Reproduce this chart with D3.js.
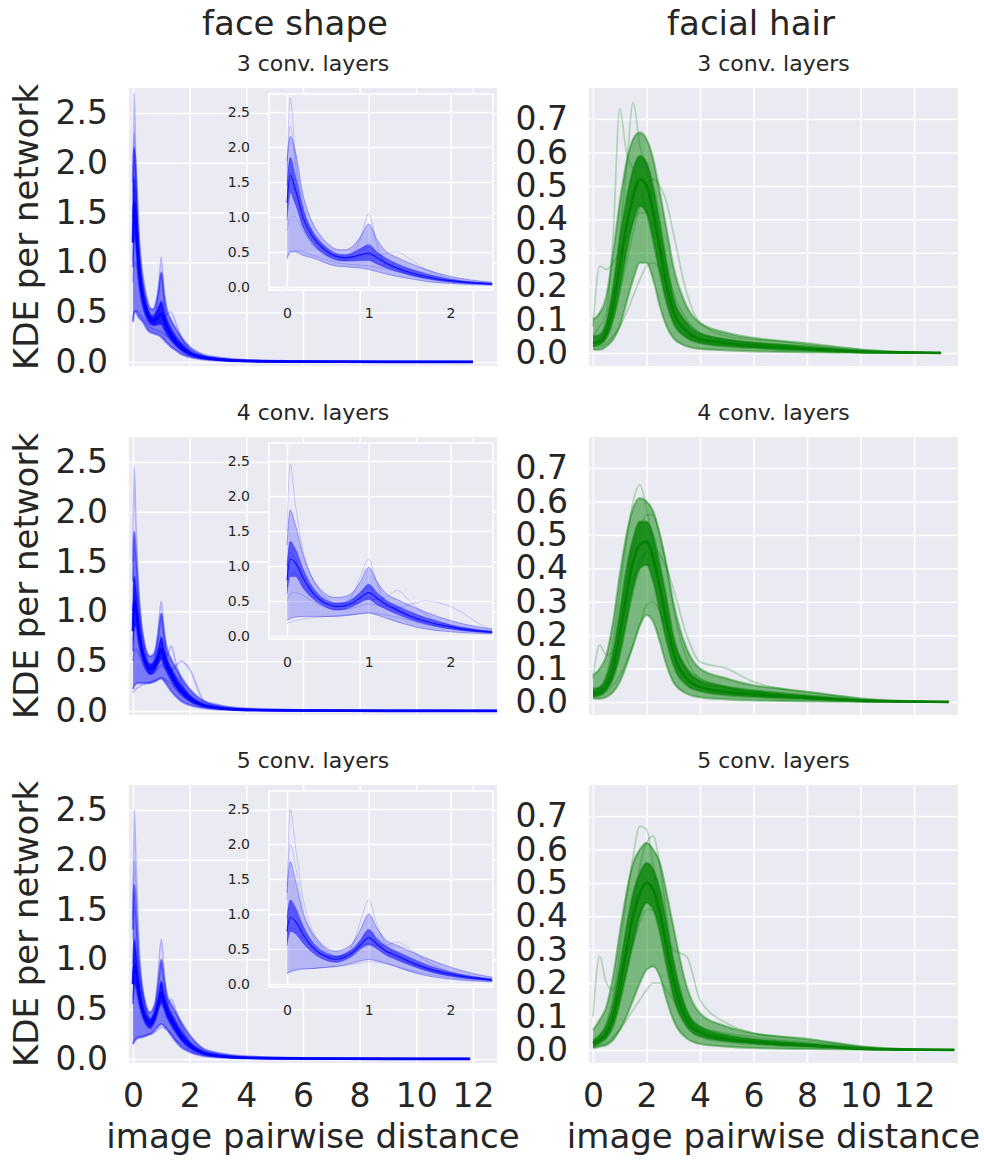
<!DOCTYPE html>
<html><head><meta charset="utf-8">
<script src="https://cdn.jsdelivr.net/npm/d3@7"></script>
<style>body{margin:0;background:#fff}svg{display:block;font-family:"DejaVu Sans",sans-serif}</style>
</head><body><svg id="c" width="984" height="1160"></svg>
<script>
// ---------- labels ----------
const colTitles = ["face shape", "facial hair"];
const rowTitles = ["3 conv. layers", "4 conv. layers", "5 conv. layers"];
const yLabel = "KDE per network";
const xLabel = "image pairwise distance";
const faceYTicks = [0, 0.5, 1.0, 1.5, 2.0, 2.5];
const hairYTicks = [0, 0.1, 0.2, 0.3, 0.4, 0.5, 0.6, 0.7];
const xTicks = [0, 2, 4, 6, 8, 10, 12];
const insetXTicks = [0, 1, 2];

// ---------- face shape (blue) : shared x grid, last point per row ----------
const faceX = [0, 0.04, 0.1, 0.2, 0.3, 0.4, 0.5, 0.6, 0.7, 0.8, 0.9, 1.0, 1.1, 1.2, 1.35, 1.5, 1.7, 2.0, 2.5, 3, 4, 6, 9];
const faceXEnd = [12.0, 12.85, 11.9];

const face3Lo  = [.40,.50,.50,.45,.42,.38,.33,.30,.29,.28,.27,.25,.22,.19,.15,.12,.08,.05,.025,.015,.005,.002,.001,0];
const face3Q1  = [.95,1.35,1.2,.85,.65,.52,.44,.39,.37,.37,.38,.38,.33,.28,.22,.17,.12,.07,.035,.02,.008,.003,.0015,.0005];
const face3Med = [1.2,1.6,1.4,.98,.74,.60,.50,.44,.42,.43,.46,.48,.42,.35,.27,.21,.15,.09,.045,.027,.011,.004,.002,.001];
const face3Q3  = [1.45,1.85,1.6,1.1,.82,.66,.55,.48,.46,.49,.55,.60,.50,.42,.33,.26,.19,.11,.055,.033,.014,.005,.0025,.0015];
const face3Hi  = [1.8,2.15,1.95,1.3,.95,.75,.62,.54,.53,.58,.72,.90,.68,.52,.42,.34,.25,.15,.07,.045,.02,.008,.004,.002];
const face3Out = [
  [1.6,2.7,1.9,1.15,.80,.60,.48,.42,.40,.42,.50,.62,.48,.36,.27,.20,.14,.08,.04,.025,.01,.004,.002,.001],
  [.42,.50,.52,.50,.46,.42,.38,.35,.33,.32,.31,.30,.28,.26,.22,.18,.13,.09,.05,.03,.012,.005,.002,.001],
  [1.0,1.3,1.2,.85,.62,.50,.42,.38,.38,.45,.70,1.05,.60,.35,.25,.18,.12,.07,.035,.02,.008,.003,.001,0],
  [.80,1.0,1.0,.80,.62,.52,.46,.42,.40,.40,.42,.45,.45,.48,.50,.40,.25,.12,.05,.03,.01,.004,.002,.001],
  [1.7,2.3,1.75,1.1,.78,.60,.50,.44,.42,.42,.45,.50,.42,.33,.25,.19,.13,.08,.04,.025,.01,.004,.002,.001]
];

const face4Lo  = [.22,.25,.27,.28,.28,.28,.28,.28,.29,.30,.32,.33,.30,.26,.20,.15,.10,.06,.03,.015,.006,.002,.001,0];
const face4Q1  = [.60,.85,.85,.68,.55,.46,.40,.37,.38,.42,.48,.52,.45,.39,.31,.24,.17,.10,.045,.025,.009,.003,.0015,.0005];
const face4Med = [.80,1.1,1.05,.82,.64,.52,.45,.42,.43,.47,.55,.62,.54,.46,.37,.29,.21,.13,.055,.032,.012,.005,.002,.001];
const face4Q3  = [1.0,1.35,1.25,.95,.72,.58,.50,.47,.48,.53,.63,.74,.62,.52,.43,.35,.26,.16,.07,.04,.016,.007,.003,.0015];
const face4Hi  = [1.3,1.8,1.6,1.15,.85,.68,.58,.55,.56,.62,.78,.98,.78,.62,.52,.44,.34,.22,.10,.06,.025,.01,.005,.002];
const face4Out = [
  [1.5,2.45,1.9,1.2,.85,.65,.52,.46,.46,.50,.60,.70,.55,.45,.35,.27,.19,.12,.05,.03,.012,.005,.002,.001],
  [.18,.20,.22,.24,.26,.27,.28,.29,.30,.31,.32,.33,.32,.30,.27,.22,.16,.10,.05,.03,.012,.005,.002,.001],
  [.90,1.2,1.1,.85,.65,.52,.46,.44,.47,.58,.85,1.1,.75,.50,.38,.28,.20,.12,.05,.03,.012,.005,.002,.001],
  [.70,.90,.90,.75,.60,.50,.45,.42,.42,.45,.50,.55,.52,.55,.65,.50,.30,.15,.06,.03,.012,.005,.002,.001],
  [.50,.60,.62,.58,.50,.44,.40,.38,.38,.40,.43,.46,.44,.42,.40,.45,.50,.42,.10,.04,.015,.005,.002,.001]
];

const face5Lo  = [.15,.18,.20,.22,.22,.23,.24,.25,.27,.30,.33,.35,.33,.30,.24,.18,.12,.07,.03,.015,.006,.002,.001,0];
const face5Q1  = [.55,.75,.72,.58,.46,.38,.33,.31,.34,.40,.50,.56,.50,.42,.34,.27,.19,.11,.05,.025,.01,.003,.0015,.0005];
const face5Med = [.75,.95,.90,.70,.54,.44,.38,.35,.38,.45,.56,.66,.57,.48,.40,.32,.23,.14,.06,.033,.013,.005,.002,.001];
const face5Q3  = [.95,1.2,1.1,.82,.62,.50,.43,.40,.43,.50,.63,.78,.65,.55,.46,.38,.28,.17,.075,.042,.017,.007,.003,.0015];
const face5Hi  = [1.3,1.75,1.5,1.0,.75,.60,.50,.47,.50,.58,.78,1.0,.80,.64,.55,.47,.37,.24,.10,.06,.026,.01,.005,.002];
const face5Out = [
  [1.2,2.5,2.0,1.2,.80,.58,.46,.40,.42,.50,.62,.75,.60,.48,.38,.30,.21,.13,.055,.03,.012,.005,.002,.001],
  [.15,.17,.19,.21,.22,.23,.24,.25,.26,.28,.30,.32,.31,.29,.25,.20,.15,.09,.04,.025,.01,.004,.002,.001],
  [.80,1.1,1.0,.75,.56,.45,.40,.38,.42,.56,.90,1.2,.85,.58,.42,.32,.22,.13,.055,.03,.012,.005,.002,.001],
  [.60,.80,.78,.65,.52,.44,.40,.38,.40,.45,.52,.58,.55,.55,.60,.50,.33,.17,.06,.03,.012,.005,.002,.001],
  [1.4,2.0,1.7,1.05,.72,.54,.44,.38,.40,.47,.58,.68,.56,.46,.37,.29,.20,.12,.05,.03,.012,.005,.002,.001]
];

// ---------- facial hair (green) ----------
const hairX = [0, .25, .5, .75, 1, 1.25, 1.5, 1.75, 2, 2.25, 2.5, 2.75, 3, 3.5, 4, 5, 6, 7, 8, 9, 10, 11, 12];
const hairXEnd = [13.0, 13.3, 13.5];

const hair3Lo  = [.01,.01,.02,.04,.08,.15,.22,.27,.27,.22,.14,.08,.045,.02,.012,.008,.005,.003,.002,.001,.0005,0,0,0];
const hair3Q1  = [.02,.025,.045,.10,.19,.30,.39,.44,.42,.34,.24,.15,.09,.045,.03,.02,.015,.011,.008,.005,.002,.001,0,0];
const hair3Med = [.03,.035,.065,.14,.26,.38,.47,.52,.50,.42,.31,.20,.125,.065,.042,.03,.022,.017,.012,.008,.004,.002,.001,0];
const hair3Q3  = [.05,.055,.095,.20,.34,.46,.55,.59,.57,.50,.39,.27,.17,.09,.058,.04,.031,.025,.018,.012,.006,.003,.001,0];
const hair3Hi  = [.10,.12,.17,.30,.45,.57,.64,.66,.64,.58,.48,.37,.26,.14,.09,.06,.045,.036,.027,.018,.01,.005,.002,0];
const hair3Out = [
  [.05,.08,.12,.35,.73,.60,.55,.50,.42,.33,.24,.16,.10,.05,.03,.02,.015,.01,.008,.005,.002,.001,0,0],
  [.03,.04,.08,.18,.35,.55,.75,.62,.55,.45,.33,.22,.13,.06,.04,.025,.018,.012,.008,.005,.002,.001,0,0],
  [.08,.26,.25,.27,.30,.35,.40,.42,.42,.38,.32,.25,.18,.10,.06,.04,.03,.025,.02,.012,.005,.002,.001,0],
  [.02,.02,.03,.05,.08,.12,.17,.22,.26,.27,.25,.20,.15,.09,.06,.04,.03,.025,.02,.014,.007,.003,.001,0],
  [.02,.03,.05,.10,.18,.27,.36,.44,.50,.52,.50,.45,.36,.18,.09,.05,.04,.035,.03,.02,.01,.004,.001,0]
];

const hair4Lo  = [.01,.01,.015,.03,.06,.11,.17,.23,.26,.24,.18,.11,.06,.025,.014,.008,.005,.003,.002,.001,.0005,0,0,0];
const hair4Q1  = [.015,.02,.035,.07,.14,.24,.34,.40,.41,.36,.27,.18,.11,.05,.032,.02,.015,.011,.008,.005,.002,.001,0,0];
const hair4Med = [.025,.03,.05,.10,.20,.32,.42,.47,.48,.43,.34,.24,.15,.07,.045,.03,.023,.017,.012,.008,.004,.002,.001,0];
const hair4Q3  = [.04,.045,.075,.15,.27,.40,.49,.54,.54,.50,.41,.31,.20,.10,.065,.045,.034,.026,.019,.012,.006,.003,.001,0];
const hair4Hi  = [.08,.10,.14,.24,.38,.50,.58,.61,.60,.57,.50,.41,.30,.16,.10,.07,.05,.04,.03,.02,.01,.005,.002,0];
const hair4Out = [
  [.03,.04,.08,.18,.33,.48,.60,.65,.58,.47,.35,.24,.15,.07,.045,.03,.022,.016,.011,.007,.003,.001,0,0],
  [.07,.17,.14,.15,.20,.28,.36,.42,.45,.42,.35,.26,.18,.09,.06,.04,.03,.022,.016,.01,.005,.002,.001,0],
  [.02,.02,.03,.05,.08,.12,.17,.23,.29,.30,.27,.22,.17,.10,.07,.045,.035,.028,.02,.012,.006,.002,.001,0],
  [.02,.025,.04,.08,.15,.24,.33,.40,.45,.46,.44,.40,.34,.20,.12,.10,.06,.04,.03,.02,.01,.004,.001,0],
  [.03,.04,.07,.13,.24,.36,.46,.52,.56,.56,.50,.40,.28,.13,.07,.045,.03,.022,.016,.01,.005,.002,.001,0]
];

const hair5Lo  = [.005,.01,.015,.03,.06,.10,.15,.20,.24,.25,.22,.15,.09,.035,.018,.01,.006,.004,.003,.002,.001,0,0,0];
const hair5Q1  = [.01,.02,.035,.07,.14,.23,.32,.40,.44,.42,.35,.25,.16,.07,.04,.025,.018,.013,.01,.006,.003,.001,0,0];
const hair5Med = [.02,.03,.05,.10,.19,.30,.40,.47,.50,.48,.41,.31,.21,.09,.052,.033,.024,.018,.014,.009,.004,.002,.001,0];
const hair5Q3  = [.03,.045,.075,.14,.25,.37,.47,.53,.56,.54,.48,.38,.27,.12,.07,.045,.033,.026,.02,.013,.006,.003,.001,0];
const hair5Hi  = [.06,.09,.13,.22,.35,.47,.56,.60,.62,.60,.56,.47,.37,.19,.11,.07,.05,.04,.032,.022,.011,.005,.002,0];
const hair5Out = [
  [.02,.04,.08,.16,.30,.45,.58,.67,.66,.55,.42,.29,.18,.08,.05,.03,.022,.016,.012,.008,.003,.001,0,0],
  [.10,.28,.20,.18,.22,.28,.35,.41,.45,.45,.40,.32,.23,.11,.06,.04,.03,.022,.016,.01,.005,.002,.001,0],
  [.01,.015,.02,.04,.06,.09,.12,.15,.18,.20,.20,.18,.15,.10,.07,.05,.04,.03,.025,.015,.007,.003,.001,0],
  [.02,.03,.05,.09,.16,.24,.32,.38,.42,.42,.38,.33,.30,.28,.15,.08,.05,.04,.035,.02,.01,.004,.001,0],
  [.02,.03,.05,.10,.18,.30,.43,.55,.62,.64,.55,.40,.26,.11,.06,.035,.025,.018,.013,.008,.003,.001,0,0]
];

// ---------- build panel tables ----------
const faceBands = [
  {lo: face3Lo, q1: face3Q1, med: face3Med, q3: face3Q3, hi: face3Hi, out: face3Out},
  {lo: face4Lo, q1: face4Q1, med: face4Med, q3: face4Q3, hi: face4Hi, out: face4Out},
  {lo: face5Lo, q1: face5Q1, med: face5Med, q3: face5Q3, hi: face5Hi, out: face5Out}
];
const hairBands = [
  {lo: hair3Lo, q1: hair3Q1, med: hair3Med, q3: hair3Q3, hi: hair3Hi, out: hair3Out},
  {lo: hair4Lo, q1: hair4Q1, med: hair4Med, q3: hair4Q3, hi: hair4Hi, out: hair4Out},
  {lo: hair5Lo, q1: hair5Q1, med: hair5Med, q3: hair5Q3, hi: hair5Hi, out: hair5Out}
];

// ---------- layout ----------
const BG = "#EAEAF2", TXT = "#262626";
const BLUE = "#0000FF", GREEN = "#008000";
const rowTop = [88, 437, 785], panelH = 278;
const colX = [[129, 497], [589, 958]];
const xDom = [[-0.141, 12.85], [-0.15, 13.64]];
const yDom = [[-0.04, 2.75], [-0.039, 0.793]];
const inset = {x0: 269, x1: 493, dy: 6, h: 196, xd: [-0.22, 2.52], yd: [-0.043, 2.757]};
const mainStyle  = {outer: 0.48, inner: 0.75, edge: 0.4, out: 0.24, med: 0.9, lw: 2.2};
const insetStyle = {outer: 0.22, inner: 0.52, edge: 0.32, out: 0.22, med: 0.8, lw: 1.0};
const TICK_FS = 33, BIG_FS = 34;

const svg = d3.select("#c");
svg.append("rect").attr("width", 984).attr("height", 1160).attr("fill", "#fff");
const defs = svg.append("defs");

function drawBand(g, xs, b, xS, yS, color, st) {
  const A = d3.area().x(d => xS(d[0])).y0(d => yS(d[1])).y1(d => yS(d[2])).curve(d3.curveMonotoneX);
  const L = d3.line().x(d => xS(d[0])).y(d => yS(d[1])).curve(d3.curveMonotoneX);
  g.append("path").attr("d", A(xs.map((x, i) => [x, b.lo[i], b.hi[i]])))
    .attr("fill", color).attr("fill-opacity", st.outer);
  g.append("path").attr("d", A(xs.map((x, i) => [x, b.q1[i], b.q3[i]])))
    .attr("fill", color).attr("fill-opacity", st.inner);
  b.out.forEach(s => {
    g.append("path").attr("d", L(xs.map((x, i) => [x, s[i]])))
      .attr("fill", "none").attr("stroke", color).attr("stroke-opacity", st.out).attr("stroke-width", st.lw * 0.8);
  });
  [b.lo, b.hi, b.q1, b.q3].forEach(s => {
    g.append("path").attr("d", L(xs.map((x, i) => [x, s[i]])))
      .attr("fill", "none").attr("stroke", color).attr("stroke-opacity", st.edge).attr("stroke-width", st.lw);
  });
  g.append("path").attr("d", L(xs.map((x, i) => [x, b.med[i]])))
    .attr("fill", "none").attr("stroke", color).attr("stroke-opacity", st.med).attr("stroke-width", st.lw * 1.2);
}

function grid(g, xS, yS, xt, yt, x0, x1, y0, y1) {
  g.append("g").attr("transform", `translate(0,${y1})`)
    .call(d3.axisBottom(xS).tickValues(xt).tickSize(-(y1 - y0)).tickFormat(""))
    .call(a => a.select(".domain").remove())
    .call(a => a.selectAll("line").attr("stroke", "#fff").attr("stroke-width", 1.5));
  g.append("g").attr("transform", `translate(${x0},0)`)
    .call(d3.axisLeft(yS).tickValues(yt).tickSize(-(x1 - x0)).tickFormat(""))
    .call(a => a.select(".domain").remove())
    .call(a => a.selectAll("line").attr("stroke", "#fff").attr("stroke-width", 1.5));
}

for (let r = 0; r < 3; r++) {
  for (let c = 0; c < 2; c++) {
    const [x0, x1] = colX[c];
    const y0 = rowTop[r], y1 = rowTop[r] + panelH;
    const xS = d3.scaleLinear().domain(xDom[c]).range([x0, x1]);
    const yS = d3.scaleLinear().domain(yDom[c]).range([y1, y0]);
    const yt = c === 0 ? faceYTicks : hairYTicks;
    const g = svg.append("g");
    g.append("rect").attr("x", x0).attr("y", y0).attr("width", x1 - x0).attr("height", panelH).attr("fill", BG);
    grid(g, xS, yS, xTicks, yt, x0, x1, y0, y1);

    const cid = `clip${r}${c}`;
    defs.append("clipPath").attr("id", cid).append("rect")
      .attr("x", x0).attr("y", y0).attr("width", x1 - x0).attr("height", panelH);
    const pg = g.append("g").attr("clip-path", `url(#${cid})`);
    const xs = c === 0 ? faceX.concat([faceXEnd[r]]) : hairX.concat([hairXEnd[r]]);
    const band = c === 0 ? faceBands[r] : hairBands[r];
    drawBand(pg, xs, band, xS, yS, c === 0 ? BLUE : GREEN, mainStyle);

    // y tick labels
    g.append("g").attr("transform", `translate(${x0},0)`)
      .call(d3.axisLeft(yS).tickValues(yt).tickSize(0).tickPadding(21).tickFormat(d3.format(".1f")))
      .call(a => a.select(".domain").remove())
      .call(a => a.selectAll("text").attr("font-size", TICK_FS).attr("fill", TXT).attr("font-family", "DejaVu Sans"));

    if (r === 2) {
      g.append("g").attr("transform", `translate(0,${y1})`)
        .call(d3.axisBottom(xS).tickValues(xTicks).tickSize(0).tickPadding(21).tickFormat(d3.format("d")))
        .call(a => a.select(".domain").remove())
        .call(a => a.selectAll("text").attr("font-size", TICK_FS).attr("fill", TXT).attr("font-family", "DejaVu Sans"));
      svg.append("text").attr("x", (x0 + x1) / 2).attr("y", 1148).attr("text-anchor", "middle")
        .attr("font-size", BIG_FS).attr("fill", TXT).text(xLabel);
    }

    // subplot title
    svg.append("text").attr("x", (x0 + x1) / 2).attr("y", y0 - 17).attr("text-anchor", "middle")
      .attr("font-size", 22).attr("fill", TXT).text(rowTitles[r]);

    // inset for face shape
    if (c === 0) {
      const iy0 = y0 + inset.dy, iy1 = iy0 + inset.h;
      const ixS = d3.scaleLinear().domain(inset.xd).range([inset.x0, inset.x1]);
      const iyS = d3.scaleLinear().domain(inset.yd).range([iy1, iy0]);
      const ig = svg.append("g");
      ig.append("rect").attr("x", inset.x0).attr("y", iy0).attr("width", inset.x1 - inset.x0).attr("height", inset.h).attr("fill", BG);
      grid(ig, ixS, iyS, insetXTicks, faceYTicks, inset.x0, inset.x1, iy0, iy1);
      const icid = `iclip${r}`;
      defs.append("clipPath").attr("id", icid).append("rect")
        .attr("x", inset.x0).attr("y", iy0).attr("width", inset.x1 - inset.x0).attr("height", inset.h);
      const ipg = ig.append("g").attr("clip-path", `url(#${icid})`);
      drawBand(ipg, xs, band, ixS, iyS, BLUE, insetStyle);
      ig.append("rect").attr("x", inset.x0).attr("y", iy0).attr("width", inset.x1 - inset.x0).attr("height", inset.h)
        .attr("fill", "none").attr("stroke", "#fff").attr("stroke-width", 1.5);
      ig.append("g").attr("transform", `translate(${inset.x0},0)`)
        .call(d3.axisLeft(iyS).tickValues(faceYTicks).tickSize(0).tickPadding(19).tickFormat(d3.format(".1f")))
        .call(a => a.select(".domain").remove())
        .call(a => a.selectAll("text").attr("font-size", 14).attr("fill", TXT).attr("font-family", "DejaVu Sans"));
      ig.append("g").attr("transform", `translate(0,${iy1})`)
        .call(d3.axisBottom(ixS).tickValues(insetXTicks).tickSize(0).tickPadding(18).tickFormat(d3.format("d")))
        .call(a => a.select(".domain").remove())
        .call(a => a.selectAll("text").attr("font-size", 14).attr("fill", TXT).attr("font-family", "DejaVu Sans"));
    }
  }
  // y label
  const cy = rowTop[r] + panelH / 2;
  svg.append("text").attr("transform", `translate(38,${cy}) rotate(-90)`).attr("text-anchor", "middle")
    .attr("font-size", BIG_FS).attr("fill", TXT).text(yLabel);
}

// column titles
svg.append("text").attr("x", 295).attr("y", 35).attr("text-anchor", "middle").attr("font-size", BIG_FS).attr("fill", TXT).text(colTitles[0]);
svg.append("text").attr("x", 751).attr("y", 35).attr("text-anchor", "middle").attr("font-size", BIG_FS).attr("fill", TXT).text(colTitles[1]);
</script>
</body></html>
